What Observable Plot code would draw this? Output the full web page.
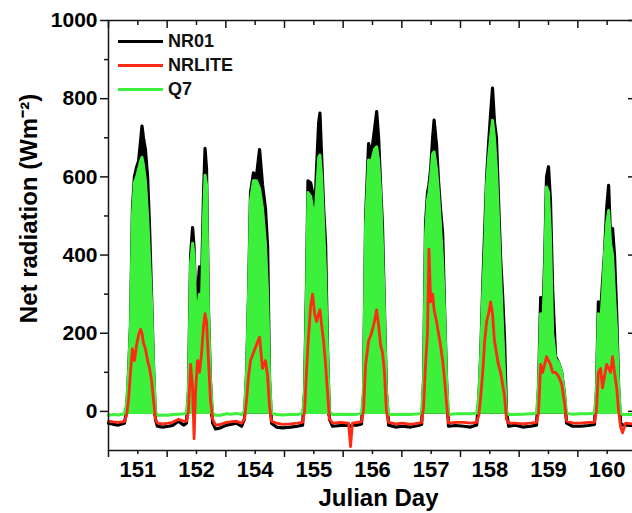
<!DOCTYPE html>
<html><head><meta charset="utf-8">
<script src="https://cdn.jsdelivr.net/npm/d3@7"></script>
<script src="https://cdn.jsdelivr.net/npm/@observablehq/plot@0.6"></script>
<style>
html,body{margin:0;padding:0;background:#fff;overflow:hidden;}
#wrap{position:relative;width:640px;height:513px;}
.legend{position:absolute;left:118px;top:29px;font-family:"Liberation Sans",Arial,sans-serif;font-weight:bold;font-size:18px;color:#111;}
.row{display:flex;align-items:center;height:24px;}
.sw{width:45px;height:3px;margin-right:5px;}
</style></head><body>
<div id="wrap"><div id="chart"></div><div class="legend" id="legend"></div></div>
<script>
// ---- data ----
const dayLabels = ["151","152","154","155","156","157","158","159","160"];
const seriesNames = ["NR01","NRLITE","Q7"];
const seriesColors = ["#000000","#ff2a14","#3cf03c"];
const yMajor = [0,200,400,600,800,1000];
const yMinor = [100,300,500,700,900];
// time in hours since start of first plotted day
const hours = [
 0,2,4,6.5,7.4,8.2,9.0,9.8,10.6,11.5,12.3,13.1,13.7,14.3,15.1,16.0,16.8,17.6,18.4,19.2,20.0,22.1,
 24.5,26.2,28.6,30.7,31.9,32.7,33.6,34.4,35.0,35.6,36.4,37.2,38.1,38.9,39.5,40.1,40.9,41.7,42.6,43.8,45.8,
 48.3,49.9,52.4,54.4,55.6,56.5,57.3,58.1,59.3,60.5,61.8,63.0,64.2,65.1,65.9,66.7,68.7,71.2,
 74.5,77.3,79.4,80.2,81.0,81.6,82.7,83.5,84.3,85.1,86.0,86.5,87.2,88.0,88.8,89.6,90.4,91.7,94.9,98.2,99.0,99.8,101.9,
 103.5,104.3,105.2,106.4,107.6,108.8,109.7,110.5,111.3,112.1,112.9,113.7,114.6,117.4,120.3,
 123.6,126.8,128.1,128.9,129.7,130.5,131.1,131.8,132.6,133.2,134.2,135.0,135.8,136.7,137.5,138.3,139.1,142.0,
 145.3,148.1,150.6,151.5,152.3,153.1,153.9,154.7,155.5,156.3,157.1,157.9,158.7,159.5,160.4,161.2,162.0,162.8,163.7,166.5,
 169.4,172.7,175.1,175.9,176.8,177.6,178.4,179.2,180.0,180.8,181.7,182.9,184.1,185.4,186.6,187.4,189.9,
 193.1,196.4,198.8,199.6,200.4,201.3,202.1,202.9,203.8,204.6,205.4,206.2,207.0,207.9,208.7,209.5,210.3,211.5,214.4,216
];
const q7 = [
 -10,-8,-9,-6,20,100,220,500,585,600,620,640,650,630,590,500,390,280,120,0,-10,-9,
 -10,-8,-7,-6,-5,50,380,430,400,280,260,300,300,500,604,580,250,80,-5,-10,-10,
 -6,-7,-5,-8,0,100,300,540,590,590,570,520,430,300,80,-5,-8,-9,
 -8,-8,-5,50,300,560,550,520,480,560,650,656,600,480,350,150,0,-8,-7,-8,-8,-8,-7,
 -5,50,480,643,640,670,677,640,560,420,250,50,-8,-8,-7,
 -8,-6,-5,80,450,540,560,600,660,664,620,560,480,380,250,80,-8,-6,
 -6,-6,-5,40,150,300,420,580,650,700,745,700,620,500,350,220,100,0,-8,-8,
 -7,-6,-5,60,250,200,350,574,560,450,200,135,125,100,40,-5,-7,
 -6,-6,-5,50,250,220,300,400,480,514,430,400,300,200,60,-5,-8,-8,-8,-8
];
const nr01 = [
 -30,-33,-35,-30,0,100,220,520,600,625,640,690,730,700,670,600,470,300,120,-20,-38,-40,
 -38,-36,-25,-35,-30,50,400,470,420,290,300,370,340,560,673,620,260,80,-30,-45,-42,
 -35,-33,-30,-38,-20,100,300,560,610,600,670,580,520,420,80,-30,-40,-42,
 -40,-38,-35,50,320,590,585,560,500,620,740,763,650,520,430,160,-20,-38,-36,-35,-38,-35,-35,
 -32,40,500,685,660,720,767,700,580,470,260,50,-35,-40,-38,
 -40,-36,-33,80,480,560,580,620,700,745,681,590,520,455,260,80,-38,-36,
 -38,-40,-35,30,150,320,463,600,686,760,827,740,700,550,393,300,190,0,-38,-35,
 -40,-38,-35,60,292,220,380,600,626,540,309,140,125,100,40,-30,-38,
 -38,-36,-33,50,280,250,330,404,520,578,440,468,400,250,60,-30,-35,-35,-36,-36
];
const nrlite = [
 -25,-27,-28,-26,-10,30,100,160,130,170,195,210,200,175,160,130,110,80,30,-20,-30,-32,
 -30,-28,-20,-25,-25,0,120,60,-70,50,130,100,150,220,250,230,130,30,-20,-35,-33,
 -28,-27,-25,-30,-20,30,90,130,150,170,190,110,130,90,10,-25,-30,-33,
 -32,-30,-28,0,100,170,270,300,250,230,250,260,220,180,120,50,-20,-30,-28,-30,-90,-30,-28,
 -27,0,120,180,200,230,260,220,170,150,100,0,-28,-32,-30,
 -33,-30,-28,10,120,200,415,280,300,260,230,200,170,130,80,20,-30,-28,
 -28,-30,-28,-10,40,100,180,230,250,280,250,180,150,120,100,70,40,-20,-30,-30,
 -32,-30,-28,-5,120,100,120,140,130,120,100,100,90,70,20,-25,-30,
 -30,-28,-28,0,100,110,60,90,120,110,100,140,100,60,0,-40,-55,-30,-32,-30
];
// night-time Q7 level for each day (lower edge of the green band)
const q7Night = [-8,-8,-7,-8,-8,-7,-7,-7,-8];

// ---- build ----
const nDays = dayLabels.length;
const rows = hours.map((h,i)=>({h, nr01:nr01[i], nrlite:nrlite[i], q7:q7[i],
  floor:q7Night[Math.min(nDays-1, Math.floor(h/24))]}));
const dayCenters = dayLabels.map((d,i)=>24*i+12);
const dayEdges = d3.range(nDays+1).map(i=>24*i);

const W=640,H=513,mL=108,mR=4,mT=20,mB=63;
const innerW=W-mL-mR, innerH=H-mT-mB;
const font='"Liberation Sans", Arial, sans-serif';
const axisColor="#151515";

const chart = Plot.plot({
  width:W, height:H, marginLeft:mL, marginRight:mR, marginTop:mT, marginBottom:mB,
  style:{fontFamily:font, fontWeight:"bold", background:"transparent", color:"#000", overflow:"visible"},
  x:{domain:[0,24*nDays], label:null},
  y:{domain:[-100,1000], label:null},
  marks:[
    Plot.areaY(rows,{x:"h", y1:d=>Math.min(d.nr01,d.floor), y2:"nr01", fill:seriesColors[0]}),
    Plot.line(rows,{x:"h", y:"nr01", stroke:seriesColors[0], strokeWidth:3.2}),
    Plot.areaY(rows,{x:"h", y1:"floor", y2:"q7", fill:seriesColors[2]}),
    Plot.line(rows,{x:"h", y:"q7", stroke:seriesColors[2], strokeWidth:3}),
    Plot.line(rows,{x:"h", y:"nrlite", stroke:seriesColors[1], strokeWidth:2.8}),
    Plot.frame({stroke:axisColor, strokeWidth:1.5}),
    Plot.axisY(yMajor,{anchor:"left", tickSize:8, tickPadding:3, fontSize:21, label:null,
      tickFormat:d=>String(d), stroke:axisColor, strokeWidth:1.5}),
    Plot.axisY(yMinor,{anchor:"left", tickSize:4, tickFormat:()=>"", label:null, stroke:axisColor, strokeWidth:1.5}),
    Plot.tickY(yMajor,{y:d=>d, insetLeft:innerW-8, stroke:axisColor, strokeWidth:1.5}),
    Plot.tickY(yMinor,{y:d=>d, insetLeft:innerW-4, stroke:axisColor, strokeWidth:1.5}),
    Plot.axisX(dayCenters,{anchor:"bottom", tickSize:4, tickPadding:7, fontSize:22, label:null,
      tickFormat:d=>dayLabels[Math.round((d-12)/24)], stroke:axisColor, strokeWidth:1.5}),
    Plot.axisX(dayEdges,{anchor:"bottom", tickSize:7, tickFormat:()=>"", label:null, stroke:axisColor, strokeWidth:1.5}),
    Plot.tickX(dayEdges,{x:d=>d, insetBottom:innerH-8, stroke:axisColor, strokeWidth:1.5}),
    Plot.tickX(dayCenters,{x:d=>d, insetBottom:innerH-5, stroke:axisColor, strokeWidth:1.5}),
    Plot.text(["Julian Day"],{text:d=>d, frameAnchor:"bottom", dy:48, dx:6, fontSize:24, fontWeight:"bold",
      textAnchor:"middle", lineAnchor:"middle", fill:"#000"}),
    Plot.text(["Net radiation (Wm\u207B\u00B2)"],{text:d=>d, frameAnchor:"left", rotate:-90, dx:-79, dy:-27,
      fontSize:24, fontWeight:"bold", textAnchor:"middle", lineAnchor:"middle", fill:"#000"})
  ]
});
document.getElementById("chart").appendChild(chart);

const leg = document.getElementById("legend");
seriesNames.forEach((n,i)=>{
  const r=document.createElement("div"); r.className="row";
  const s=document.createElement("div"); s.className="sw"; s.style.background=seriesColors[i];
  const t=document.createElement("span"); t.textContent=n;
  r.appendChild(s); r.appendChild(t); leg.appendChild(r);
});
</script>
</body></html>
